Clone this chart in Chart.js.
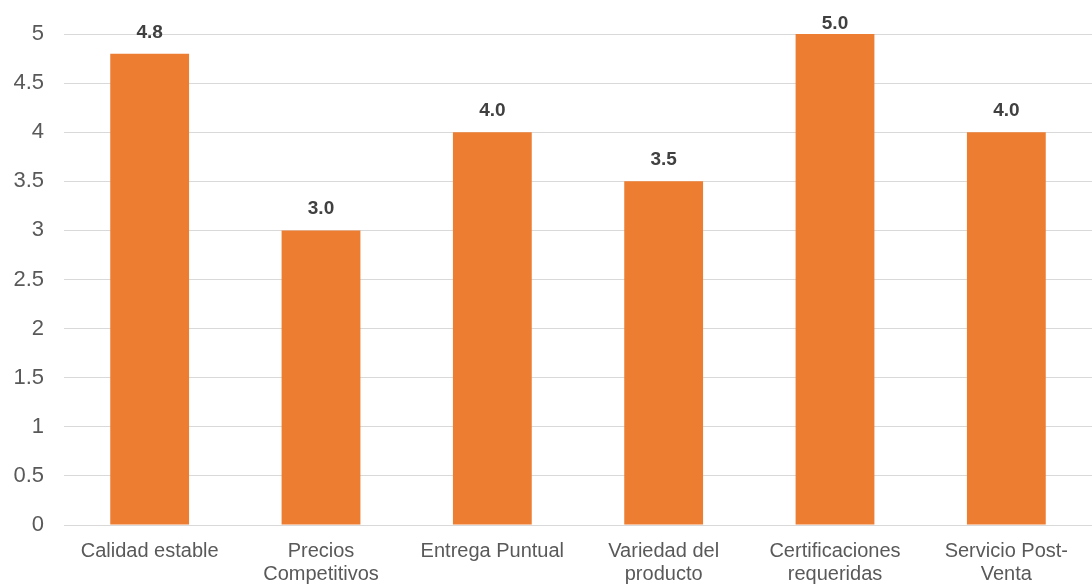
<!DOCTYPE html>
<html>
<head>
<meta charset="utf-8">
<script src="https://cdn.jsdelivr.net/npm/chart.js@4.4.1/dist/chart.umd.min.js"></script>
<style>
  html, body { margin: 0; padding: 0; background: #fff; }
  #wrap { width: 1092px; height: 585px; position: relative; }
</style>
</head>
<body>
<div id="wrap"><canvas id="c"></canvas></div>
<script>
// categorías (saltos de línea como en el original)
const categories = [
  "Calidad estable",
  ["Precios", "Competitivos"],
  "Entrega Puntual",
  ["Variedad del", "producto"],
  ["Certificaciones", "requeridas"],
  ["Servicio Post-", "Venta"]
];
const scores = [4.8, 3.0, 4.0, 3.5, 5.0, 4.0];
const yTicks = [0, 0.5, 1, 1.5, 2, 2.5, 3, 3.5, 4, 4.5, 5];

const BAR = "#ED7D31";
const FONT = "'Liberation Sans', Arial, sans-serif";

// etiquetas de valor encima de cada barra (sin salirse por arriba)
const valueLabels = {
  id: "valueLabels",
  afterDatasetsDraw(ch) {
    const ctx = ch.ctx;
    const meta = ch.getDatasetMeta(0);
    ctx.save();
    ctx.font = "bold 19px " + FONT;
    ctx.fillStyle = "#404040";
    ctx.textAlign = "center";
    ctx.textBaseline = "alphabetic";
    meta.data.forEach((bar, i) => {
      const y = Math.max(bar.y - 16, 29);
      ctx.fillText(scores[i].toFixed(1), bar.x, y);
    });
    ctx.restore();
  }
};

new Chart(document.getElementById("c"), {
  type: "bar",
  data: {
    labels: categories,
    datasets: [{
      data: scores,
      backgroundColor: BAR,
      borderWidth: 0,
      categoryPercentage: 1,
      barPercentage: 0.46
    }]
  },
  options: {
    responsive: true,
    maintainAspectRatio: false,
    animation: false,
    layout: { padding: { top: 34, right: 0, left: 0, bottom: 0 } },
    plugins: { legend: { display: false }, tooltip: { enabled: false } },
    scales: {
      x: {
        grid: { display: false },
        border: { display: false },
        ticks: {
          color: "#595959",
          font: { family: FONT, size: 20, lineHeight: 1.15 },
          padding: 7,
          maxRotation: 0,
          autoSkip: false
        },
        afterFit(s) { s.height = 60; }
      },
      y: {
        min: 0,
        max: 5,
        afterBuildTicks(s) { s.ticks = yTicks.map(v => ({ value: v })); },
        grid: { color: "#d9d9d9", lineWidth: 1, drawTicks: false },
        border: { display: false },
        ticks: {
          color: "#595959",
          font: { family: FONT, size: 22 },
          padding: 20,
          callback: v => String(v)
        },
        afterFit(s) { s.width = 64; }
      }
    }
  },
  plugins: [valueLabels]
});
</script>
</body>
</html>
